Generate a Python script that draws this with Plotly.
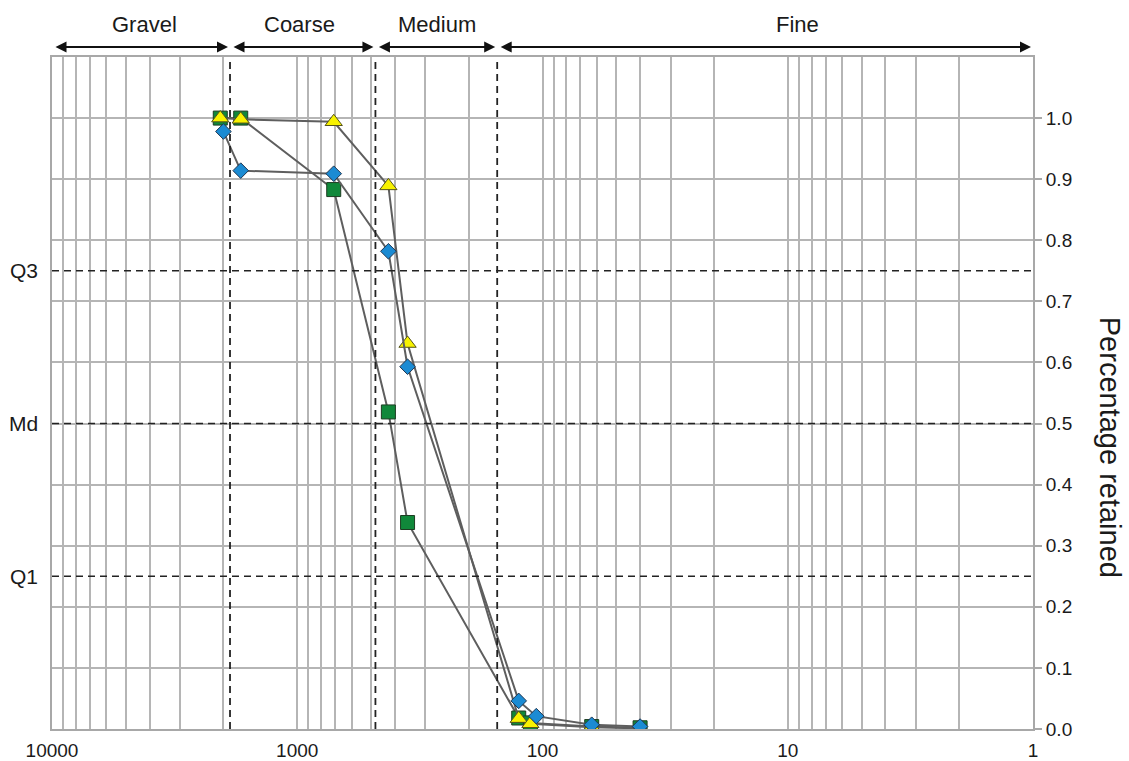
import math
import plotly.graph_objects as go

# Sieve apertures (micrometres) and cumulative fraction retained for three samples
sizes_diamond = [2000, 1700, 710, 425, 355, 125, 106, 63, 40]
retained_diamond = [0.978, 0.914, 0.909, 0.782, 0.593, 0.046, 0.021, 0.007, 0.004]

sizes_square = [2060, 1700, 710, 425, 355, 125, 112, 63, 40]
retained_square = [1.0, 1.0, 0.883, 0.519, 0.338, 0.018, 0.010, 0.004, 0.002]

sizes_triangle = [2060, 1700, 710, 425, 355, 125, 112, 63, 40]
retained_triangle = [1.0, 0.998, 0.994, 0.889, 0.631, 0.017, 0.0085, 0.003, 0.001]

# Grain-size class boundaries (micrometres) and class names
class_bounds = [10000, 1880, 480, 153, 1]
class_names = ["Gravel", "Coarse", "Medium", "Fine"]
class_label_pos = [4190, 977, 270, 9.1]

# Quartile reference levels
quartile_levels = [0.75, 0.5, 0.25]
quartile_names = ["Q3", "Md", "Q1"]

x_ticks_major = [10000, 1000, 100, 10, 1]
y_ticks = [round(0.1 * i, 1) for i in range(11)]

FONT = "Arial, Liberation Sans, sans-serif"
GRID = "#b5b5b5"
LINE = "#5e5e5e"
TEXT = "#1a1a1a"

fig = go.Figure()

series = [
    (sizes_square, retained_square, "square", 14, "#10883a", "#1d3d22"),
    (sizes_triangle, retained_triangle, "triangle-up", 15, "#f7f200", "#55531a"),
    (sizes_diamond, retained_diamond, "diamond", 12, "#1b8bd3", "#1f3550"),
]
for xs, ys, sym, sz, fill, edge in series:
    fig.add_trace(go.Scatter(
        x=xs, y=ys, mode="lines+markers",
        line=dict(color=LINE, width=2),
        marker=dict(symbol=sym, size=sz, color=fill, line=dict(color=edge, width=1)),
        showlegend=False, hoverinfo="skip",
    ))

# Class boundary lines (vertical, dashed)
for b in class_bounds[1:-1]:
    fig.add_shape(type="line", xref="x", yref="y", x0=b, x1=b, y0=0, y1=1.1,
                  line=dict(color="#222222", width=1.8, dash="7px,5px"))

# Quartile lines (horizontal, dashed)
for q, name in zip(quartile_levels, quartile_names):
    fig.add_shape(type="line", xref="paper", yref="y", x0=0, x1=1, y0=q, y1=q,
                  line=dict(color="#222222", width=1.5, dash="7px,5px"))
    fig.add_annotation(text=name, xref="paper", yref="y", x=-0.012, y=q,
                       xanchor="right", yanchor="middle", showarrow=False,
                       font=dict(family=FONT, size=21, color=TEXT))

# Double-headed arrows and names for each grain-size class
for (b0, b1), name, lx in zip(zip(class_bounds[:-1], class_bounds[1:]), class_names, class_label_pos):
    fig.add_annotation(
        text="", xref="x", yref="paper", axref="x", ayref="pixel",
        x=math.log10(b1), ax=math.log10(b0), y=1.0149, ay=0,
        showarrow=True, arrowside="end+start", arrowhead=2, arrowsize=1.1,
        arrowwidth=2, arrowcolor="#111111", standoff=2, startstandoff=2,
    )
    fig.add_annotation(text=name, xref="x", yref="paper", x=math.log10(lx), y=1.048,
                       xanchor="center", yanchor="middle", showarrow=False,
                       font=dict(family=FONT, size=22, color=TEXT))

# Right-hand axis title, reading top to bottom
fig.add_annotation(text="Percentage retained", xref="paper", yref="paper",
                   x=1.0785, y=0.42, textangle=90, showarrow=False,
                   xanchor="center", yanchor="middle",
                   font=dict(family=FONT, size=29, color=TEXT))

grid_vals = [k * 10 ** n for n in range(4) for k in range(1, 10)] + [10000]
grid_text = [str(v) if v in x_ticks_major else "" for v in grid_vals]

fig.update_xaxes(
    type="log", range=[4, 0], tickvals=grid_vals, ticktext=grid_text,
    showgrid=True, gridcolor=GRID, gridwidth=2,
    showline=True, linecolor="#a8a8a8", linewidth=2, mirror=True,
    ticks="", tickfont=dict(family=FONT, size=19, color=TEXT),
    ticklabelstandoff=3,
    zeroline=False, automargin=False,
)
fig.update_yaxes(
    side="right", range=[0, 1.1], tickvals=y_ticks,
    ticktext=[f"{v:.1f}" for v in y_ticks],
    showgrid=True, gridcolor=GRID, gridwidth=2,
    showline=True, linecolor="#a8a8a8", linewidth=2, mirror=True,
    ticks="outside", ticklen=7, tickwidth=2, tickcolor="#a8a8a8",
    tickfont=dict(family=FONT, size=19, color=TEXT),
    zeroline=False, automargin=False,
)

fig.update_layout(
    width=1129, height=761,
    margin=dict(l=52, r=96, t=57, b=32),
    paper_bgcolor="white", plot_bgcolor="white",
    font=dict(family=FONT),
)

fig.write_html("out.html")
